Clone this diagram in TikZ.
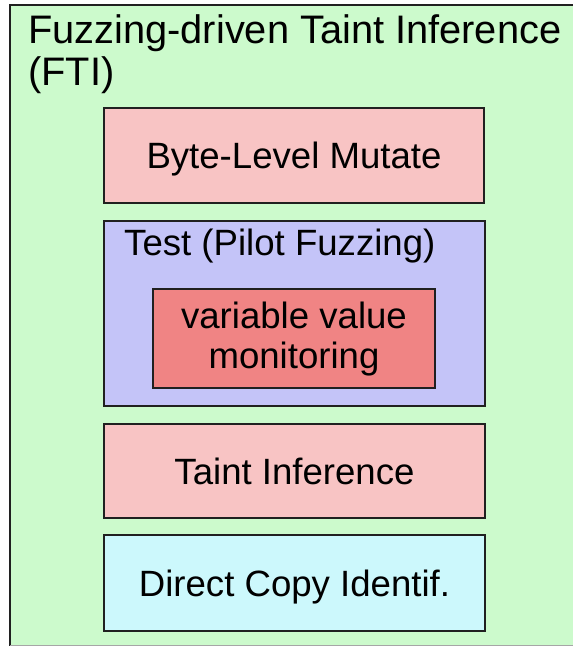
\documentclass[tikz,border=0pt]{standalone}
\usepackage{fontspec}
\setmainfont{Liberation Sans}
\definecolor{bggreen}{HTML}{CCFACC}
\definecolor{pinkc}{HTML}{F8C4C4}
\definecolor{lavc}{HTML}{C4C4F8}
\definecolor{redc}{HTML}{F08484}
\definecolor{cyanc}{HTML}{CCF8FC}
\definecolor{edgec}{HTML}{202020}
\begin{document}
\begin{tikzpicture}[x=1pt,y=1pt,
  box/.style={draw=edgec, line width=2pt, rectangle, inner sep=0pt,
    font=\fontsize{36.6}{40}\selectfont, text height=26.2pt, text depth=0pt},
  txt/.style={inner sep=0pt, font=\fontsize{36.6}{40}\selectfont},
  ttl/.style={inner sep=0pt, font=\fontsize{39.8}{42}\selectfont}]
\useasboundingbox (0,0) rectangle (573,-646);
\fill[bggreen] (10,-5) rectangle (573,-646);
\draw[edgec, line width=2pt] (573,-5) -- (10,-5) -- (10,-646);
\draw[edgec!40, line width=1pt] (10,-645) -- (573,-645);
\node[ttl, anchor=base west] (t1) at (28,-43) {Fuzzing-driven Taint Inference};
\node[ttl, anchor=base west] (t2) at (28,-85) {(FTI)};
\node[box, fill=pinkc, minimum width=380pt, minimum height=95pt] (byte) at (294,-155.5) {Byte-Level Mutate};
\node[box, fill=lavc, minimum width=381pt, minimum height=185pt] (test) at (294.5,-313.5) {};
\node[txt, anchor=base west] (testlbl) at (124,-255) {Test (Pilot Fuzzing)};
\node[box, fill=redc, minimum width=282pt, minimum height=99pt] (var) at (294,-338.5) {};
\node[txt, anchor=base] (v1) at (294,-328) {variable value};
\node[txt, anchor=base] (v2) at (294,-368) {monitoring};
\node[box, fill=pinkc, minimum width=381pt, minimum height=94pt] (taint) at (294.5,-471) {Taint Inference};
\node[box, fill=cyanc, minimum width=381pt, minimum height=96pt] (direct) at (294.5,-583) {Direct Copy Identif.};
\end{tikzpicture}
\end{document}
